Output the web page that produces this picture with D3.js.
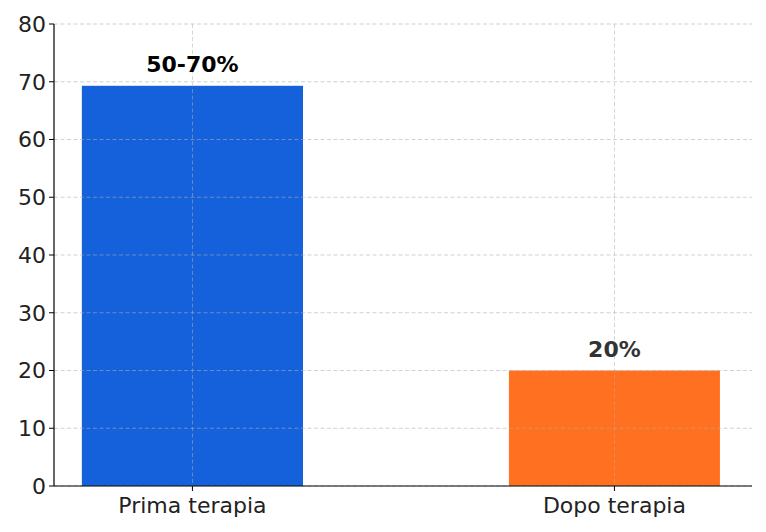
<!DOCTYPE html>
<html><head><meta charset="utf-8">
<script src="https://cdn.jsdelivr.net/npm/d3@7"></script>
<style>body{margin:0;background:#fff}text{font-family:"DejaVu Sans",sans-serif}</style>
</head><body><svg id="c" width="766" height="532"></svg>
<script>
const categories = ["Prima terapia", "Dopo terapia"];
const values = [69.3, 20];
const barLabels = ["50-70%", "20%"];
const yTicks = [0,10,20,30,40,50,60,70,80];

const svg = d3.select("#c");
const L=54,R=752,T=24,B=486;
const x = d3.scaleLinear().domain([-0.328,1.326]).range([L,R]);
const y = d3.scaleLinear().domain([0,80]).range([B,T]);
const widths=[0.524,0.5];
const colors=["#1560DB","#FF7020"];
const labelColors=["#000","#333"];

svg.selectAll("rect.bar").data(values).join("rect")
  .attr("x",(d,i)=>x(i-widths[i]/2)).attr("width",(d,i)=>x(widths[i])-x(0))
  .attr("y",d=>y(d)).attr("height",d=>B-y(d)).attr("fill",(d,i)=>colors[i]);

const g=svg.append("g");
yTicks.forEach(t=>g.append("line").attr("x1",L).attr("x2",R).attr("y1",y(t)).attr("y2",y(t))
  .attr("stroke","#b0b0b0").attr("stroke-width",0.8).attr("stroke-dasharray","4,2.5").attr("opacity",0.7));
categories.forEach((c,i)=>g.append("line").attr("x1",x(i)).attr("x2",x(i)).attr("y1",T).attr("y2",B)
  .attr("stroke","#b0b0b0").attr("stroke-width",0.8).attr("stroke-dasharray","4,2.5").attr("opacity",0.7));

svg.append("line").attr("x1",L).attr("x2",L).attr("y1",T).attr("y2",B).attr("stroke","#000").attr("stroke-width",1.2);
svg.append("line").attr("x1",L).attr("x2",R).attr("y1",B).attr("y2",B).attr("stroke","#000").attr("stroke-width",1.2);

yTicks.forEach(t=>{
  svg.append("line").attr("x1",L-5).attr("x2",L).attr("y1",y(t)).attr("y2",y(t)).attr("stroke","#000");
  svg.append("text").attr("x",L-8).attr("y",y(t)).attr("dy","0.36em").attr("text-anchor","end")
    .attr("font-size",22).attr("fill","#222").text(t);
});
categories.forEach((c,i)=>{
  svg.append("line").attr("x1",x(i)).attr("x2",x(i)).attr("y1",B).attr("y2",B+5).attr("stroke","#000");
  svg.append("text").attr("x",x(i)).attr("y",B+27).attr("text-anchor","middle")
    .attr("font-size",22).attr("fill","#222").text(c);
});
values.forEach((v,i)=>svg.append("text").attr("x",x(i)).attr("y",y(v)-14).attr("text-anchor","middle")
  .attr("font-size",22).attr("font-weight","bold").attr("fill",labelColors[i]).text(barLabels[i]));
</script></body></html>
